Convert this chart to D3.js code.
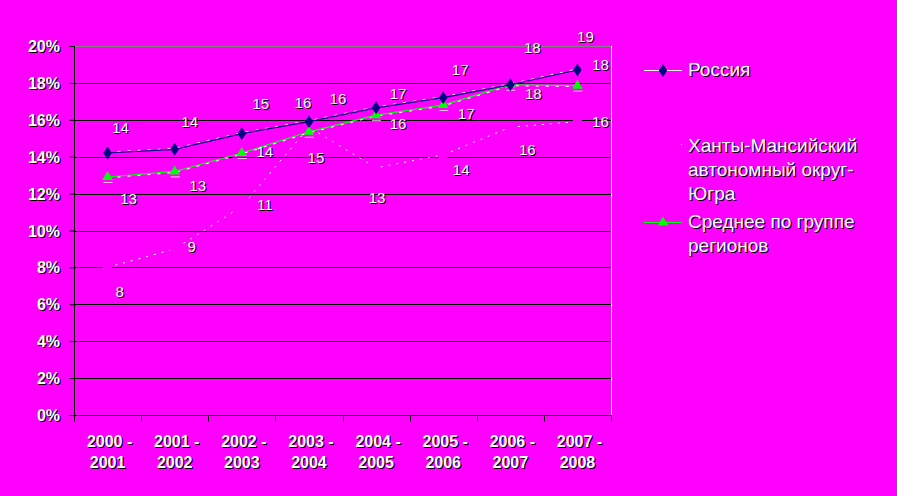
<!DOCTYPE html>
<html>
<head>
<meta charset="utf-8">
<script src="https://cdn.jsdelivr.net/npm/d3@7"></script>
<style>
  html, body { margin: 0; padding: 0; background: #FF00FF; }
  svg { display: block; }
  text { font-family: Arial, "Liberation Sans", sans-serif; }
</style>
</head>
<body>
<svg id="chart" width="897" height="496"></svg>
<script>
// ---- data ----
const categories = ["2000 - 2001", "2001 - 2002", "2002 - 2003", "2003 - 2004",
                    "2004 - 2005", "2005 - 2006", "2006 - 2007", "2007 - 2008"];
const seriesNames = ["Россия", "Ханты-Мансийский автономный округ-Югра", "Среднее по группе регионов"];
const russia = [14.2, 14.4, 15.25, 15.9, 16.65, 17.2, 17.9, 18.7];
const khmao  = [8.0, 9.0, 11.3, 15.6, 13.4, 14.1, 15.6, 15.9];
const groupAvg = [12.9, 13.2, 14.2, 15.35, 16.25, 16.8, 17.9, 17.85];
const russiaLabels = ["14", "14", "15", "16", "17", "17", "18", "19"];
const khmaoLabels  = ["8", "9", "11", "16", "13", "14", "16", "16"];
const groupLabels  = ["13", "13", "14", "15", "16", "17", "18", "18"];
const yTicks = [0, 2, 4, 6, 8, 10, 12, 14, 16, 18, 20];

// ---- label offsets (style, relative to point) ----
const russiaOff = [[13,-20],[15,-22],[19,-25],[29,-18],[22,-9],[17,-23],[22,-32],[8,-28]];
const groupOff  = [[21,27],[23,20],[23,4],[7,31],[22,14],[23,14],[23,14],[23,-16]];
const khmaoOff  = [[12,30],[17,3],[23,3],[-6,-19],[1,35],[18,20],[17,28],[23,5]];

const BG = "#FF00FF", NAVY = "#000080", GREEN = "#00FF00";
const svg = d3.select("#chart");
const L = 74, R = 611, T = 46, B = 415;

const x = d3.scaleBand().domain(categories).range([L, R]).padding(0);
const y = d3.scaleLinear().domain([0, 20]).range([B, T]);
const cx = c => x(c) + x.bandwidth() / 2;

function shadowText(g, tx, ty, str, opts) {
  const o = Object.assign({size: 15, weight: "normal", anchor: "start"}, opts || {});
  g.append("text").attr("x", tx + 1).attr("y", ty + 1).text(str)
    .attr("font-size", o.size).attr("font-weight", o.weight)
    .attr("text-anchor", o.anchor).attr("fill", "#000");
  g.append("text").attr("x", tx).attr("y", ty).text(str)
    .attr("font-size", o.size).attr("font-weight", o.weight)
    .attr("text-anchor", o.anchor).attr("fill", "#fff");
}

// gridlines
const grid = svg.append("g");
grid.selectAll("line").data(yTicks.filter(t => t > 0)).join("line")
  .attr("x1", L).attr("x2", R)
  .attr("y1", d => Math.round(y(d)) + 0.5).attr("y2", d => Math.round(y(d)) + 0.5)
  .attr("stroke", d => d === 20 ? "#808080" : "#000").attr("stroke-width", 1);
// right border white
svg.append("line").attr("x1", R + 0.5).attr("x2", R + 0.5).attr("y1", T).attr("y2", B)
  .attr("stroke", "#fff");

// y axis
const yAxisG = svg.append("g").attr("transform", `translate(${L + 0.5},0)`);
yAxisG.call(d3.axisLeft(y).tickValues(yTicks).tickSize(5).tickFormat(""));
yAxisG.select(".domain").attr("stroke", "#000").attr("d", `M0,${T}V${B + 0.5}`);
yAxisG.selectAll(".tick line").attr("stroke", "#000");
const ylab = svg.append("g");
yTicks.forEach(t => shadowText(ylab, 60, y(t) + 6, t + "%", {size: 16, weight: "bold", anchor: "end"}));

// x axis
const xAxisG = svg.append("g").attr("transform", `translate(0,${B + 0.5})`);
xAxisG.append("line").attr("x1", L - 5).attr("x2", R + 1).attr("y1", 0).attr("y2", 0).attr("stroke", "#000");
const bounds = categories.map(c => x(c)).concat([R]);
xAxisG.selectAll("line.tk").data(bounds).join("line").attr("class", "tk")
  .attr("x1", d => Math.round(d) + 0.5).attr("x2", d => Math.round(d) + 0.5)
  .attr("y1", 0).attr("y2", 6).attr("stroke", "#000");
const xlab = svg.append("g");
categories.forEach(c => {
  const parts = c.split(" - ");
  shadowText(xlab, cx(c) + 2, 447, parts[0] + " -", {size: 16, weight: "bold", anchor: "middle"});
  shadowText(xlab, cx(c), 468, parts[1], {size: 16, weight: "bold", anchor: "middle"});
});

const line = d3.line().x((d, i) => cx(categories[i])).y(d => y(d));

// KhMAO series (white sparse dotted)
svg.append("path").datum(khmao).attr("d", line).attr("fill", "none")
  .attr("stroke", "#fff").attr("stroke-width", 1).attr("stroke-dasharray", "2,6");
svg.append("g").selectAll("rect").data(khmao).join("rect")
  .attr("x", (d, i) => cx(categories[i]) - 4.5).attr("y", d => y(d) - 4.5)
  .attr("width", 9).attr("height", 9).attr("fill", BG);

// group average series
svg.append("path").datum(groupAvg).attr("d", line).attr("fill", "none")
  .attr("stroke", GREEN).attr("stroke-width", 1.2);
svg.append("path").datum(groupAvg).attr("d", line).attr("fill", "none")
  .attr("transform", "translate(0,1)")
  .attr("stroke", "#fff").attr("stroke-width", 1).attr("stroke-dasharray", "3,7");
const tri = d3.symbol().type(d3.symbolTriangle).size(48);
const gm = svg.append("g");
groupAvg.forEach((d, i) => {
  const px = cx(categories[i]), py = y(d);
  gm.append("line").attr("x1", px - 4).attr("x2", px + 5).attr("y1", py + 5.5).attr("y2", py + 5.5)
    .attr("stroke", "#fff").attr("stroke-opacity", 0.8);
  gm.append("path").attr("d", tri).attr("transform", `translate(${px},${py})`).attr("fill", GREEN);
});

// Russia series
svg.append("path").datum(russia).attr("d", line).attr("fill", "none")
  .attr("transform", "translate(0,-1)")
  .attr("stroke", "#fff").attr("stroke-width", 1).attr("stroke-dasharray", "3,7");
svg.append("path").datum(russia).attr("d", line).attr("fill", "none")
  .attr("stroke", NAVY).attr("stroke-width", 1.2);
svg.append("g").selectAll("path").data(russia).join("path")
  .attr("d", d3.symbol().type(d3.symbolDiamond).size(48))
  .attr("transform", (d, i) => `translate(${cx(categories[i])},${y(d)}) scale(1.15,1)`)
  .attr("fill", NAVY);

// data labels
const dl = svg.append("g");
function labels(vals, labs, offs) {
  vals.forEach((v, i) => {
    shadowText(dl, cx(categories[i]) + offs[i][0], y(v) + offs[i][1], labs[i], {size: 15, anchor: "middle"});
  });
}
labels(russia, russiaLabels, russiaOff);
labels(groupAvg, groupLabels, groupOff);
labels(khmao, khmaoLabels, khmaoOff);

// legend
const lg = svg.append("g");
// Russia
lg.append("line").attr("x1", 644).attr("x2", 682).attr("y1", 70.5).attr("y2", 70.5).attr("stroke", "#fff");
lg.append("path").attr("d", d3.symbol().type(d3.symbolDiamond).size(48))
  .attr("transform", "translate(663,70.5) scale(1.15,1)").attr("fill", NAVY);
shadowText(lg, 688, 76, seriesNames[0], {size: 19});
// KhMAO
lg.append("line").attr("x1", 644).attr("x2", 683).attr("y1", 144.5).attr("y2", 144.5)
  .attr("stroke", "#fff").attr("stroke-dasharray", "0,37,1,10");
shadowText(lg, 688, 152, "Ханты-Мансийский", {size: 19});
shadowText(lg, 688, 176, "автономный округ-", {size: 19});
shadowText(lg, 688, 200, "Югра", {size: 19});
// Group
lg.append("line").attr("x1", 644).attr("x2", 682).attr("y1", 222.5).attr("y2", 222.5).attr("stroke", GREEN);
lg.append("path").attr("d", tri).attr("transform", "translate(663,222.5)").attr("fill", GREEN);
shadowText(lg, 688, 228, "Среднее по группе", {size: 19});
shadowText(lg, 688, 252, "регионов", {size: 19});
</script>
</body>
</html>
